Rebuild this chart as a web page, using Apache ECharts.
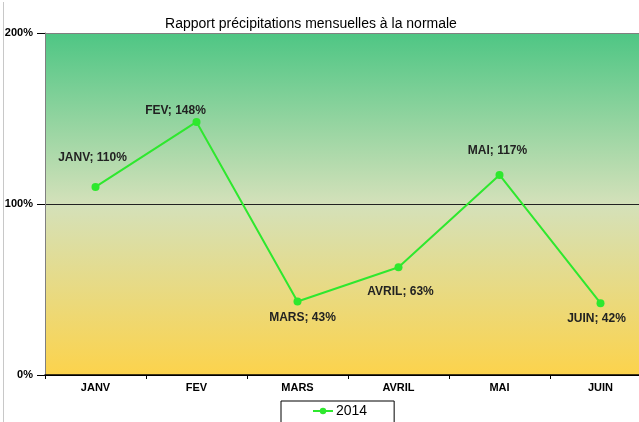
<!DOCTYPE html>
<html>
<head>
<meta charset="utf-8">
<script src="https://cdn.jsdelivr.net/npm/echarts@6/dist/echarts.min.js"></script>
<style>html,body{margin:0;padding:0;background:#fff;overflow:hidden;width:639px;height:422px}#c{width:660px;height:422px}</style>
</head>
<body>
<div id="c"></div>
<script>
const categories = ['JANV', 'FEV', 'MARS', 'AVRIL', 'MAI', 'JUIN'];
const values2014 = [110, 148, 43, 63, 117, 42];
const yTicks = [0, 100, 200];
const seriesName = '2014';
const titleText = 'Rapport précipitations mensuelles à la normale';

const labelPos = [
  {position: 'top', distance: 19, offset: [-3, 0]},
  {position: 'top', distance: 1, offset: [-21, 0]},
  {position: 'bottom', distance: 6, offset: [5, 0]},
  {position: 'bottom', distance: 14, offset: [2, 0]},
  {position: 'top', distance: 14, offset: [-2, 0]},
  {position: 'bottom', distance: 6, offset: [-4, 0]}
];

const chart = echarts.init(document.getElementById('c'), null, {renderer: 'canvas'});
const font = '"Liberation Sans", Arial, sans-serif';
chart.setOption({
  animation: false,
  title: {
    text: titleText, left: 306, top: 12, textAlign: 'center',
    textStyle: {fontFamily: font, fontSize: 14, fontWeight: 'normal', color: '#000'}
  },
  graphic: [{
    type: 'line', shape: {x1: 3.5, y1: 2, x2: 3.5, y2: 422},
    style: {stroke: '#c8c8c8', lineWidth: 1}
  }],
  legend: {
    left: 281, top: 401,
    borderColor: '#000', borderWidth: 1,
    padding: [3, 27, 20, 31],
    itemWidth: 20, itemHeight: 8, itemGap: 3,
    textStyle: {fontFamily: font, fontSize: 14, color: '#000', padding: [0, 0, 0, -2]},
    data: [seriesName]
  },
  grid: {
    left: 45, top: 33, width: 606, height: 342,
    show: true, borderWidth: 0,
    backgroundColor: new echarts.graphic.LinearGradient(0, 0, 0, 1, [
      {offset: 0, color: '#4ec684'},
      {offset: 0.5, color: '#d4e1ba'},
      {offset: 1, color: '#fcd34c'}
    ])
  },
  xAxis: {
    type: 'category', data: categories, boundaryGap: true,
    axisLine: {lineStyle: {color: '#000', width: 1.5}},
    axisTick: {show: true, length: 4, lineStyle: {color: '#000'}},
    axisLabel: {fontFamily: font, fontSize: 11, fontWeight: 'bold', color: '#000', margin: 7}
  },
  yAxis: {
    type: 'value', min: 0, max: 200, interval: 100,
    axisLine: {show: true, lineStyle: {color: '#808080', width: 1}},
    axisTick: {show: true, length: 8, lineStyle: {color: '#000'}},
    axisLabel: {
      fontFamily: font, fontSize: 11, fontWeight: 'bold', color: '#000', margin: 12,
      formatter: v => yTicks.includes(v) ? v + '%' : ''
    },
    splitLine: {show: true, lineStyle: {color: ['#000', '#222', '#808080'], width: 1}}
  },
  series: [{
    name: seriesName, type: 'line',
    data: values2014.map((v, i) => ({value: v, label: labelPos[i]})),
    symbol: 'circle', symbolSize: 8,
    lineStyle: {color: '#2ee82e', width: 2},
    itemStyle: {color: '#2ee82e'},
    label: {
      show: true, formatter: p => p.name + '; ' + p.value + '%',
      fontFamily: font, fontSize: 12, fontWeight: 'bold', color: '#222'
    }
  }]
});
</script>
</body>
</html>
